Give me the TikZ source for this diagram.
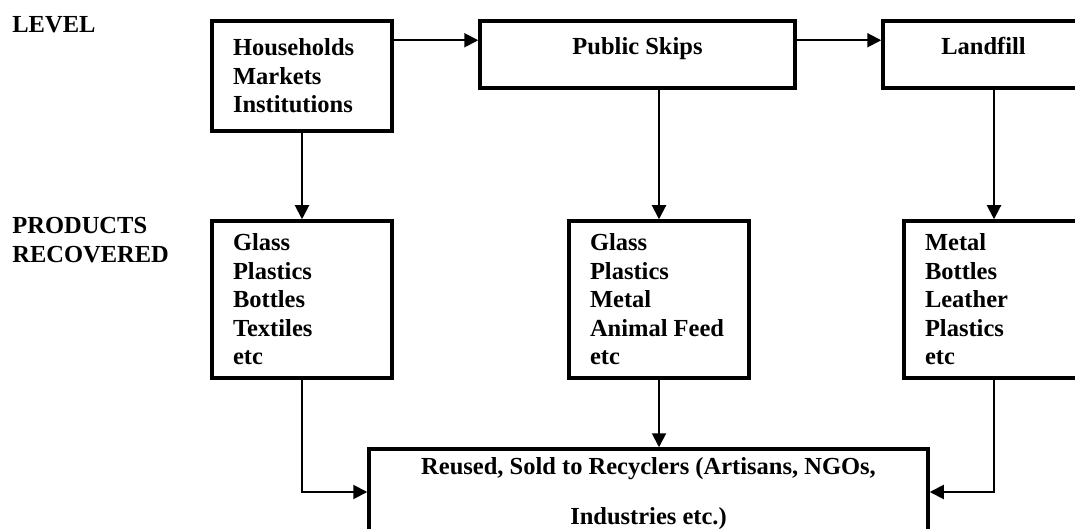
\documentclass[tikz,border=0pt]{standalone}
\usepackage{fontspec}
\setmainfont{Liberation Serif}
\usetikzlibrary{arrows.meta,positioning}

\begin{document}
\begin{tikzpicture}[
    x=0.5pt, y=-0.5pt,
    every node/.style={font=\fontsize{12.25pt}{14.25pt}\selectfont\bfseries},
    stage/.style={rectangle, draw=black, line width=1.75pt, minimum height=33.5pt, text height=8.5pt, text depth=8.5pt},
    source/.style={rectangle, draw=black, line width=1.75pt, minimum width=90pt, text width=69pt, inner xsep=10.5pt, align=flush left},
    products/.style={source, minimum height=78.5pt},
    outcome/.style={rectangle, draw=black, line width=1.75pt, minimum width=279.5pt, minimum height=45pt, align=center},
    label/.style={inner sep=0pt, align=flush left},
    arrow/.style={->, >={Triangle[length=7pt,width=7pt]}, line width=1pt}
]
    \useasboundingbox (0,0) rectangle (1075,529);

    % row labels
    \node[label, anchor=base west] (level) at (12,33) {LEVEL};
    \node[label, anchor=north west] (recovered) at (12,217) {PRODUCTS\\RECOVERED};

    % collection levels
    \node[source, minimum height=55pt] (households) at (302,76) {Households\\Markets\\Institutions};
    \node[stage, minimum width=157.5pt] (skips) at (637.5,54.5) {Public Skips};
    \node[stage, minimum width=100.5pt] (landfill) at (983.5,54.5) {Landfill};

    % products recovered
    \node[products] (hhprod) at (302,299.5) {Glass\\Plastics\\Bottles\\Textiles\\etc};
    \node[products] (skipprod) at (659,299.5) {Glass\\Plastics\\Metal\\Animal Feed\\etc};
    \node[products] (fillprod) at (994,299.5) {Metal\\Bottles\\Leather\\Plastics\\etc};

    \node[outcome] (recycle) at (648.5,494) {Reused, Sold to Recyclers (Artisans, NGOs,\\[10.75pt]Industries etc.)};

    \draw[arrow] ([yshift=-10.5pt]households.north east) -- ([yshift=-10.5pt]skips.north west);
    \draw[arrow] ([yshift=-10.5pt]skips.north east) -- ([yshift=-10.5pt]landfill.north west);

    \draw[arrow] (households) -- (hhprod);
    \draw[arrow] (skipprod.north |- skips.south) -- (skipprod);
    \draw[arrow] (fillprod.north |- landfill.south) -- (fillprod);

    \draw[arrow] (hhprod) |- ([yshift=1pt]recycle.west);
    \draw[arrow] (skipprod) -- (skipprod |- recycle.north);
    \draw[arrow] (fillprod) |- ([yshift=1pt]recycle.east);
\end{tikzpicture}
\end{document}
